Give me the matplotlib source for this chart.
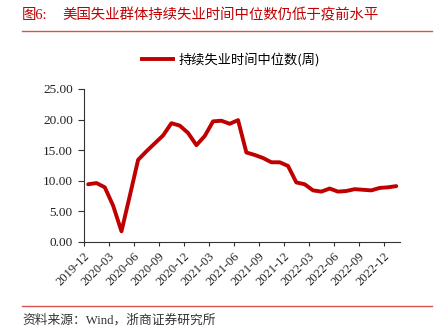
import matplotlib.pyplot as plt
from matplotlib.lines import Line2D
import numpy as np

months = ['2019-12', '2020-01', '2020-02', '2020-03', '2020-04', '2020-05',
          '2020-06', '2020-07', '2020-08', '2020-09', '2020-10', '2020-11',
          '2020-12', '2021-01', '2021-02', '2021-03', '2021-04', '2021-05',
          '2021-06', '2021-07', '2021-08', '2021-09', '2021-10', '2021-11',
          '2021-12', '2022-01', '2022-02', '2022-03', '2022-04', '2022-05',
          '2022-06', '2022-07', '2022-08', '2022-09', '2022-10', '2022-11',
          '2022-12', '2023-01']
weeks = [9.4, 9.6, 8.9, 5.9, 1.7, 7.5, 13.4, 14.8, 16.1, 17.4, 19.4, 19.0,
         17.8, 15.8, 17.3, 19.7, 19.8, 19.3, 19.9, 14.6, 14.2, 13.7, 13.0,
         13.0, 12.4, 9.7, 9.4, 8.4, 8.2, 8.7, 8.2, 8.3, 8.6, 8.5, 8.4, 8.8,
         8.9, 9.1]
tick_labels = months[0:37:3]

red = '#C00000'
cn = ['Noto Sans CJK SC', 'DejaVu Sans']
num = ['Liberation Serif', 'Noto Sans CJK SC']

fig = plt.figure(figsize=(4.42, 3.32), dpi=100)
ax = fig.add_axes([0.19, 0.272, 0.716, 0.46])

x = np.arange(len(weeks))
ax.plot(x, weeks, color=red, lw=2.8, solid_joinstyle='round',
        solid_capstyle='round')

ax.set_xlim(-0.5, len(weeks) - 0.5)
ax.set_ylim(0, 25)
ax.set_yticks(np.arange(0, 26, 5))
ax.set_yticklabels([f'{v:.2f}' for v in np.arange(0, 26, 5)],
                   family=num, fontsize=9.5)
ax.set_xticks(np.arange(-0.5, 36, 3))
ax.set_xticklabels(tick_labels, rotation=45, ha='right',
                   rotation_mode='anchor', family=num, fontsize=9)
ax.tick_params(axis='both', direction='out', width=0.8,
               colors='#333333', labelcolor='#222222')
ax.tick_params(axis='y', length=4, pad=4)
ax.tick_params(axis='x', length=3, pad=3)
for s in ['top', 'right']:
    ax.spines[s].set_visible(False)
for s in ['left', 'bottom']:
    ax.spines[s].set_color('#333333')
    ax.spines[s].set_linewidth(0.8)

# legend above the plot
handle = Line2D([0], [0], color=red, lw=2.8)
fig.legend([handle], ['持续失业时间中位数(周)'], loc='center',
           bbox_to_anchor=(0.522, 0.819), frameon=False, handlelength=2.4,
           handletextpad=0.35, prop={'family': cn, 'size': 9.5})

# header and footer
fig.text(0.05, 0.953, '图6:', color=red, family=num, fontsize=10.4,
         va='center')
fig.text(0.142, 0.953, '美国失业群体持续失业时间中位数仍低于疫前水平',
         color=red, family=cn, fontsize=10.4, va='center')
fig.add_artist(Line2D([0.05, 0.977], [0.906, 0.906], color='#D9534F', lw=1))
fig.add_artist(Line2D([0.05, 0.977], [0.078, 0.078], color='#D9534F', lw=1))
fig.text(0.05, 0.036, '资料来源：Wind，浙商证券研究所', color='#333333',
         family=num, fontsize=9.2, va='center')

fig.savefig('out.png', dpi=100)
